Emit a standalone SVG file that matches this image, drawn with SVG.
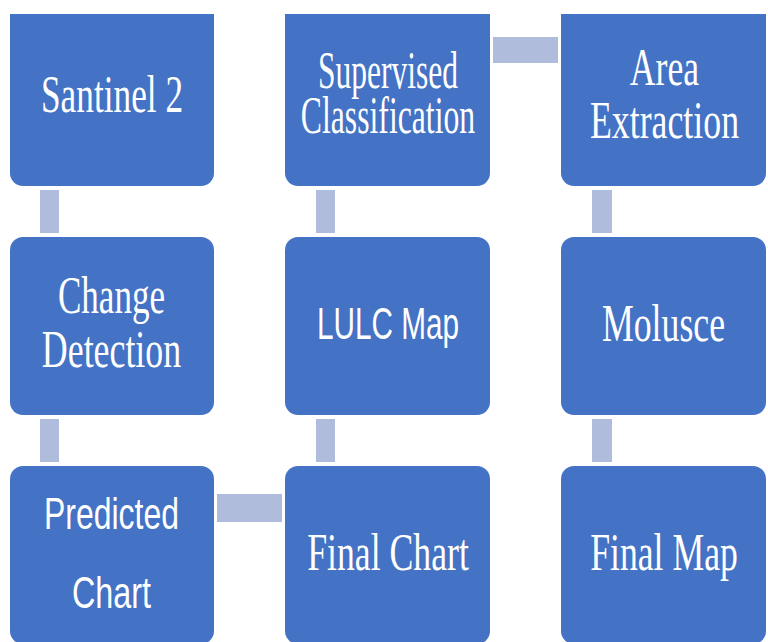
<svg xmlns="http://www.w3.org/2000/svg" width="768" height="642" viewBox="0 0 768 642">
<style>
.box{fill:#4472C4;}
.con{fill:#AFBCDC;}
.serif{font-family:"Liberation Serif","Times New Roman",serif;font-size:52px;fill:#FFFFFF;text-anchor:middle;}
.sans{font-family:"Liberation Sans",Arial,sans-serif;font-size:45px;fill:#FFFFFF;text-anchor:middle;}
</style>
<rect width="768" height="642" fill="#FFFFFF"/>
<g id="connectors">
<rect class="con" x="40" y="190" width="19" height="43"/>
<rect class="con" x="40" y="419" width="19" height="43"/>
<rect class="con" x="316" y="190" width="19" height="43"/>
<rect class="con" x="316" y="419" width="19" height="43"/>
<rect class="con" x="592" y="190" width="20" height="43"/>
<rect class="con" x="592" y="419" width="20" height="43"/>
<rect class="con" x="493" y="37" width="65" height="26"/>
<rect class="con" x="217" y="494" width="65" height="28"/>
</g>
<g id="santinel">
<path class="box" d="M10,14 H214 V173 A13,13 0 0 1 201,186 H23 A13,13 0 0 1 10,173 Z"/>
<text class="serif" transform="translate(112,112) scale(0.7,1)" x="0" y="0" textLength="203" lengthAdjust="spacingAndGlyphs">Santinel 2</text>
</g>
<g id="supervised">
<path class="box" d="M285,14 H490 V173 A13,13 0 0 1 477,186 H298 A13,13 0 0 1 285,173 Z"/>
<text class="serif" transform="translate(388,88) scale(0.7,1)" x="0" y="0" textLength="200" lengthAdjust="spacingAndGlyphs">Supervised</text>
<text class="serif" transform="translate(388,133) scale(0.7,1)" x="0" y="0" textLength="249" lengthAdjust="spacingAndGlyphs">Classification</text>
</g>
<g id="area">
<path class="box" d="M561,14 H766 V173 A13,13 0 0 1 753,186 H574 A13,13 0 0 1 561,173 Z"/>
<text class="serif" transform="translate(664.5,85) scale(0.7,1)" x="0" y="0" textLength="99" lengthAdjust="spacingAndGlyphs">Area</text>
<text class="serif" transform="translate(664.5,138) scale(0.7,1)" x="0" y="0" textLength="213" lengthAdjust="spacingAndGlyphs">Extraction</text>
</g>
<g id="change">
<rect class="box" x="10" y="237" width="204" height="178" rx="13"/>
<text class="serif" transform="translate(111.5,313) scale(0.7,1)" x="0" y="0" textLength="153" lengthAdjust="spacingAndGlyphs">Change</text>
<text class="serif" transform="translate(111.5,367) scale(0.7,1)" x="0" y="0" textLength="199" lengthAdjust="spacingAndGlyphs">Detection</text>
</g>
<g id="lulc">
<rect class="box" x="285" y="237" width="205" height="178" rx="13"/>
<text class="sans" transform="translate(388,339) scale(0.7,1)" x="0" y="0" textLength="203" lengthAdjust="spacingAndGlyphs">LULC Map</text>
</g>
<g id="molusce">
<rect class="box" x="561" y="237" width="205" height="178" rx="13"/>
<text class="serif" transform="translate(663.5,341) scale(0.7,1)" x="0" y="0" textLength="176" lengthAdjust="spacingAndGlyphs">Molusce</text>
</g>
<g id="predicted">
<rect class="box" x="10" y="466" width="204" height="178" rx="13"/>
<text class="sans" transform="translate(111.5,529) scale(0.7,1)" x="0" y="0" textLength="193" lengthAdjust="spacingAndGlyphs">Predicted</text>
<text class="sans" transform="translate(111.5,608) scale(0.7,1)" x="0" y="0" textLength="113" lengthAdjust="spacingAndGlyphs">Chart</text>
</g>
<g id="finalchart">
<rect class="box" x="285" y="466" width="205" height="178" rx="13"/>
<text class="serif" transform="translate(388,570) scale(0.7,1)" x="0" y="0" textLength="231" lengthAdjust="spacingAndGlyphs">Final Chart</text>
</g>
<g id="finalmap">
<rect class="box" x="561" y="466" width="205" height="178" rx="13"/>
<text class="serif" transform="translate(664,570) scale(0.7,1)" x="0" y="0" textLength="211" lengthAdjust="spacingAndGlyphs">Final Map</text>
</g>
</svg>
